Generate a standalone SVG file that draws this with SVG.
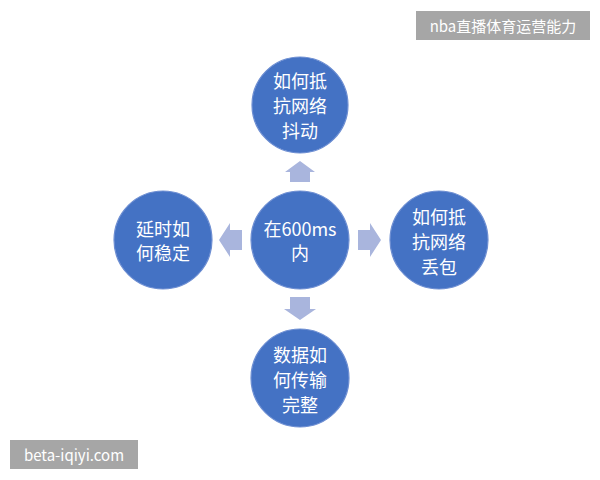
<svg xmlns="http://www.w3.org/2000/svg" width="600" height="480" viewBox="0 0 600 480">
<style>
.c{fill:#4472c4;stroke:#6d8ed2;stroke-width:1.2}
.t{font-family:"Noto Sans CJK SC","Noto Sans",sans-serif;font-size:18px;fill:#fff;text-anchor:middle;dominant-baseline:central}
.a{fill:#a9b5dd}
.lb{fill:#a6a6a6}
.lt{font-family:"Noto Sans CJK SC","Noto Sans",sans-serif;font-size:15px;fill:#fff;text-anchor:middle;dominant-baseline:central}
</style>
<rect width="600" height="480" fill="#fff"/>
<g id="connectors">
<polygon class="a" points="300,161 315,172 310,172 310,182 290,182 290,172 285,172"/>
<polygon class="a" points="290,297 310,297 310,309 316,309 300,320 284,309 290,309"/>
<polygon class="a" points="358,230 370,230 370,223 381,240 370,257 370,250 358,250"/>
<polygon class="a" points="242,230 230,230 230,223 219,240 230,257 230,250 242,250"/>
</g>
<g id="center">
<circle class="c" cx="300" cy="240" r="49"/>
<text class="t" x="300" y="228">在600ms</text>
<text class="t" x="300" y="252">内</text>
</g>
<g id="top">
<circle class="c" cx="300" cy="105" r="48"/>
<text class="t" x="300" y="80">如何抵</text>
<text class="t" x="300" y="105">抗网络</text>
<text class="t" x="300" y="130">抖动</text>
</g>
<g id="right">
<circle class="c" cx="439" cy="240" r="49"/>
<text class="t" x="439" y="216">如何抵</text>
<text class="t" x="439" y="241">抗网络</text>
<text class="t" x="439" y="266">丢包</text>
</g>
<g id="left">
<circle class="c" cx="163" cy="240" r="49"/>
<text class="t" x="163" y="228">延时如</text>
<text class="t" x="163" y="252">何稳定</text>
</g>
<g id="bottom">
<circle class="c" cx="300" cy="378" r="49"/>
<text class="t" x="300" y="354">数据如</text>
<text class="t" x="300" y="379">何传输</text>
<text class="t" x="300" y="404">完整</text>
</g>
<g id="label-top">
<rect class="lb" x="416" y="11" width="174" height="29"/>
<text class="lt" x="503" y="25.5">nba直播体育运营能力</text>
</g>
<g id="label-bottom">
<rect class="lb" x="10" y="440" width="128" height="29"/>
<text class="lt" x="74" y="454.5">beta-iqiyi.com</text>
</g>
</svg>
